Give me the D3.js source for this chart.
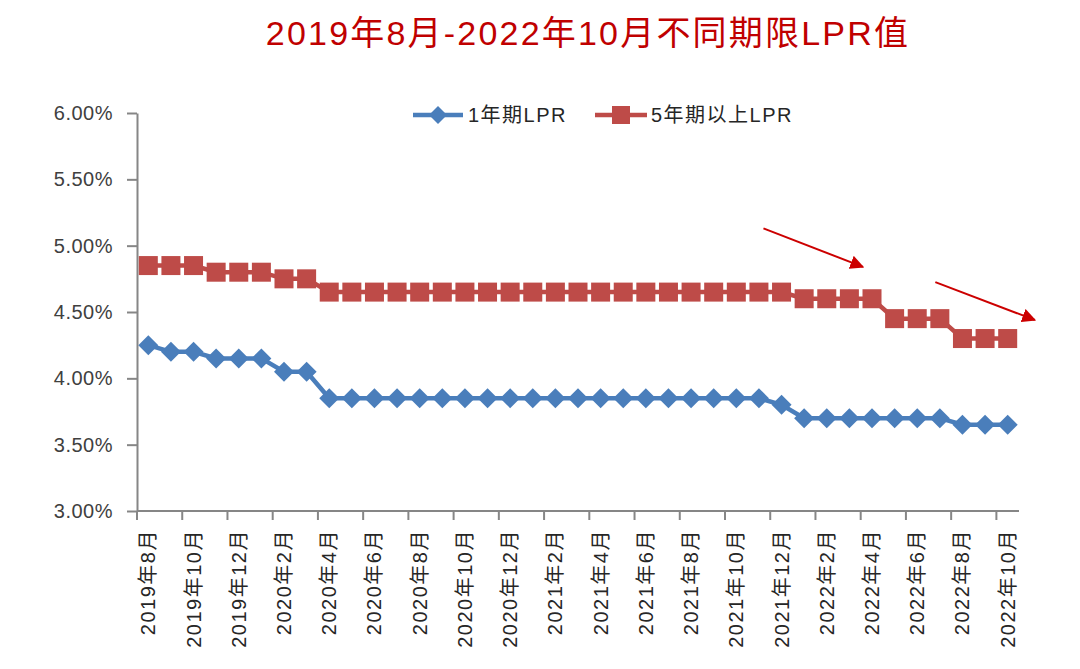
<!DOCTYPE html>
<html><head><meta charset="utf-8">
<script src="https://cdn.jsdelivr.net/npm/d3@7/dist/d3.min.js"></script>
<style>
body{margin:0;background:#fff;}
text{font-family:"Liberation Sans","Noto Sans CJK SC",sans-serif;}
</style></head>
<body><svg id="c" width="1080" height="669"></svg>
<script>
const months = ["2019年8月","2019年9月","2019年10月","2019年11月","2019年12月",
"2020年1月","2020年2月","2020年3月","2020年4月","2020年5月","2020年6月","2020年7月","2020年8月","2020年9月","2020年10月","2020年11月","2020年12月",
"2021年1月","2021年2月","2021年3月","2021年4月","2021年5月","2021年6月","2021年7月","2021年8月","2021年9月","2021年10月","2021年11月","2021年12月",
"2022年1月","2022年2月","2022年3月","2022年4月","2022年5月","2022年6月","2022年7月","2022年8月","2022年9月","2022年10月"];
const lpr1y = [4.25,4.20,4.20,4.15,4.15,4.15,4.05,4.05,3.85,3.85,3.85,3.85,3.85,3.85,3.85,3.85,3.85,
3.85,3.85,3.85,3.85,3.85,3.85,3.85,3.85,3.85,3.85,3.85,3.80,
3.70,3.70,3.70,3.70,3.70,3.70,3.70,3.65,3.65,3.65];
const lpr5y = [4.85,4.85,4.85,4.80,4.80,4.80,4.75,4.75,4.65,4.65,4.65,4.65,4.65,4.65,4.65,4.65,4.65,
4.65,4.65,4.65,4.65,4.65,4.65,4.65,4.65,4.65,4.65,4.65,4.65,
4.60,4.60,4.60,4.60,4.45,4.45,4.45,4.30,4.30,4.30];
const yTicks = [3.0,3.5,4.0,4.5,5.0,5.5,6.0];
const seriesNames = ["1年期LPR","5年期以上LPR"];
const title = "2019年8月-2022年10月不同期限LPR值";
// annotation arrows in data space: [startIndex, startValue, endIndex, endValue]
const arrows = [[27.2,5.13,31.6,4.84],[34.8,4.725,39.2,4.44]];

const svg = d3.select("#c");
const L=137,R=1019,T=113,B=511;
const x = d3.scaleBand().domain(months).range([L,R]);
const y = d3.scaleLinear().domain([3,6]).range([B,T]);
const xi = i => L + x.bandwidth()*(i+0.5);
const blue="#4a7ebb", red="#be4b48", axisC="#868686";

svg.append("text").attr("x",588).attr("y",45).attr("text-anchor","middle")
  .attr("fill","#c00000").attr("font-size",34).attr("letter-spacing",2.2).text(title);

// y axis
const ya = svg.append("g").attr("transform",`translate(${L},0)`)
  .call(d3.axisLeft(y).tickValues(yTicks).tickFormat(d=>d.toFixed(2)+"%").tickSize(10).tickSizeOuter(0).tickPadding(14));
ya.select(".domain").attr("stroke",axisC).attr("stroke-width",2);
ya.selectAll(".tick line").attr("stroke",axisC).attr("stroke-width",2);
ya.selectAll(".tick text").attr("font-size",20).attr("letter-spacing",0.5).attr("fill","#404040");

// x axis
const xa = svg.append("g").attr("transform",`translate(0,${B})`)
  .call(d3.axisBottom(x).tickValues(months.filter((d,i)=>i%2===0)).tickSize(0).tickSizeOuter(0));
xa.select(".domain").attr("stroke",axisC).attr("stroke-width",2).attr("d",`M${L},0H${R}`);
xa.selectAll(".tick line").remove();
xa.selectAll(".tick text").attr("font-size",20).attr("letter-spacing",1.5).attr("fill","#262626")
  .attr("transform","rotate(-90)").attr("text-anchor","end").attr("dy","0.35em").attr("x",-18).attr("y",0);
// tick marks on band boundaries every 2 months
const tickPos = d3.range(0,months.length+1,2).map(i=>L+i*x.bandwidth());
svg.append("g").selectAll("line").data(tickPos).join("line")
  .attr("x1",d=>d).attr("x2",d=>d).attr("y1",B).attr("y2",B+9).attr("stroke",axisC).attr("stroke-width",2);

const line = d3.line().x((d,i)=>xi(i)).y(d=>y(d));
function diamond(g,cx,cy,s,c){g.append("path").attr("d",`M${cx},${cy-s}L${cx+s},${cy}L${cx},${cy+s}L${cx-s},${cy}Z`).attr("fill",c);}
// series
svg.append("path").datum(lpr5y).attr("d",line).attr("fill","none").attr("stroke",red).attr("stroke-width",4.5);
svg.append("g").selectAll("rect").data(lpr5y).join("rect")
  .attr("x",(d,i)=>xi(i)-9.5).attr("y",d=>y(d)-9.5).attr("width",19).attr("height",19).attr("fill",red);
svg.append("path").datum(lpr1y).attr("d",line).attr("fill","none").attr("stroke",blue).attr("stroke-width",4.5);
const dg = svg.append("g");
lpr1y.forEach((d,i)=>diamond(dg,xi(i),y(d),10,blue));

// legend
const lg = svg.append("g");
lg.append("line").attr("x1",413).attr("x2",463).attr("y1",115).attr("y2",115).attr("stroke",blue).attr("stroke-width",4.5);
diamond(lg,438,115,9,blue);
lg.append("text").attr("x",468).attr("y",115).attr("dy","0.35em").attr("font-size",20).attr("letter-spacing",1.5).attr("fill","#262626").text(seriesNames[0]);
lg.append("line").attr("x1",595).attr("x2",647).attr("y1",115).attr("y2",115).attr("stroke",red).attr("stroke-width",4.5);
lg.append("rect").attr("x",612).attr("y",106).attr("width",18).attr("height",18).attr("fill",red);
lg.append("text").attr("x",651).attr("y",115).attr("dy","0.35em").attr("font-size",20).attr("letter-spacing",1.5).attr("fill","#262626").text(seriesNames[1]);

// arrows
const defs = svg.append("defs");
defs.append("marker").attr("id","ah").attr("viewBox","0 0 10 10").attr("refX",9).attr("refY",5)
  .attr("markerWidth",7).attr("markerHeight",7).attr("markerUnits","strokeWidth").attr("orient","auto")
  .append("path").attr("d","M0,0L10,5L0,10Z").attr("fill","#cc0000");
const xc = d3.scaleLinear().domain([0,months.length-1]).range([xi(0),xi(months.length-1)]);
svg.append("g").selectAll("line").data(arrows).join("line")
  .attr("x1",d=>xc(d[0])).attr("y1",d=>y(d[1])).attr("x2",d=>xc(d[2])).attr("y2",d=>y(d[3]))
  .attr("stroke","#cc0000").attr("stroke-width",2).attr("marker-end","url(#ah)");
</script></body></html>
